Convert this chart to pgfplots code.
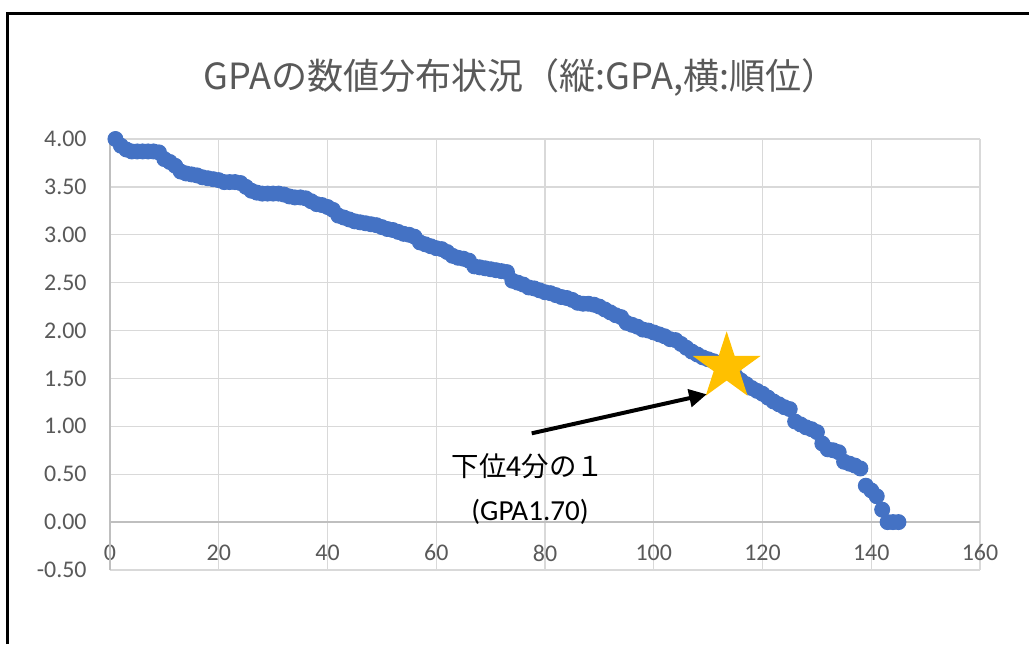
\documentclass[border=0pt]{standalone}
\usepackage{fontspec}
\setmainfont{Carlito}
\newfontfamily\jp{Noto Sans CJK JP}
\usepackage{pgfplots}
\pgfplotsset{compat=1.18}
\usetikzlibrary{arrows.meta}

\definecolor{gpablue}{HTML}{4472C4}
\definecolor{stargold}{HTML}{FFC000}
\definecolor{gridgray}{HTML}{D9D9D9}
\definecolor{axisgray}{HTML}{BFBFBF}
\definecolor{txtgray}{HTML}{595959}

% filled five-pointed star as a plot mark
\pgfdeclareplotmark{fstar}{%
  \pgfpathmoveto{\pgfpointpolar{90}{\pgfplotmarksize}}%
  \pgfpathlineto{\pgfpointpolar{126}{0.382*\pgfplotmarksize}}%
  \pgfpathlineto{\pgfpointpolar{162}{\pgfplotmarksize}}%
  \pgfpathlineto{\pgfpointpolar{198}{0.382*\pgfplotmarksize}}%
  \pgfpathlineto{\pgfpointpolar{234}{\pgfplotmarksize}}%
  \pgfpathlineto{\pgfpointpolar{270}{0.382*\pgfplotmarksize}}%
  \pgfpathlineto{\pgfpointpolar{306}{\pgfplotmarksize}}%
  \pgfpathlineto{\pgfpointpolar{342}{0.382*\pgfplotmarksize}}%
  \pgfpathlineto{\pgfpointpolar{18}{\pgfplotmarksize}}%
  \pgfpathlineto{\pgfpointpolar{54}{0.382*\pgfplotmarksize}}%
  \pgfpathclose
  \pgfusepathqfill}

\pgfplotstableread{
rank gpa
1 4.00
2 3.93
3 3.89
4 3.87
5 3.87
6 3.87
7 3.87
8 3.87
9 3.86
10 3.79
11 3.76
12 3.72
13 3.66
14 3.64
15 3.63
16 3.62
17 3.60
18 3.59
19 3.58
20 3.57
21 3.55
22 3.55
23 3.55
24 3.54
25 3.50
26 3.46
27 3.44
28 3.43
29 3.43
30 3.43
31 3.43
32 3.42
33 3.40
34 3.39
35 3.39
36 3.38
37 3.35
38 3.32
39 3.31
40 3.29
41 3.26
42 3.20
43 3.18
44 3.16
45 3.14
46 3.13
47 3.12
48 3.11
49 3.10
50 3.08
51 3.06
52 3.05
53 3.03
54 3.01
55 3.00
56 2.98
57 2.92
58 2.90
59 2.88
60 2.86
61 2.85
62 2.82
63 2.78
64 2.76
65 2.75
66 2.73
67 2.67
68 2.66
69 2.65
70 2.64
71 2.63
72 2.62
73 2.61
74 2.52
75 2.50
76 2.48
77 2.45
78 2.44
79 2.42
80 2.40
81 2.39
82 2.37
83 2.35
84 2.34
85 2.32
86 2.29
87 2.28
88 2.28
89 2.27
90 2.25
91 2.22
92 2.19
93 2.16
94 2.14
95 2.08
96 2.06
97 2.04
98 2.01
99 2.00
100 1.98
101 1.96
102 1.94
103 1.91
104 1.90
105 1.86
106 1.82
107 1.78
108 1.75
109 1.72
110 1.70
111 1.68
112 1.65
113 1.62
114 1.58
115 1.53
116 1.48
117 1.44
118 1.40
119 1.37
120 1.34
121 1.30
122 1.26
123 1.23
124 1.20
125 1.18
126 1.05
127 1.02
128 0.99
129 0.97
130 0.94
131 0.82
132 0.76
133 0.75
134 0.73
135 0.63
136 0.61
137 0.59
138 0.56
139 0.38
140 0.33
141 0.27
142 0.13
143 0.00
144 0.00
145 0.00
}\gpadata

\begin{document}
\begin{tikzpicture}[x=0.015cm,y=0.015cm]
\fill[white] (0,0) rectangle (1029,644);
\useasboundingbox (0,0) rectangle (1029,644);
\draw[black, line width=1pt] (7.5,0) -- (7.5,630.5) -- (1029,630.5);

\begin{axis}[
    at={(1.65cm,1.11cm)}, anchor=south west,
    scale only axis,
    width=13.05cm, height=6.465cm,
    xmin=0, xmax=160, ymin=-0.5, ymax=4,
    xtick={0,20,...,160},
    ytick={-0.5,0,0.5,1,1.5,2,2.5,3,3.5,4},
    grid=major,
    grid style={draw=gridgray, line width=0.55pt},
    extra y ticks={0}, extra y tick labels={},
    extra y tick style={grid style={draw=axisgray, line width=0.6pt}},
    extra x ticks={0}, extra x tick labels={},
    extra x tick style={grid style={draw=axisgray, line width=0.6pt}},
    axis line style={draw=none},
    major tick length=0pt,
    tick style={draw=none},
    /pgf/number format/assume math mode=true,
    ticklabel style={font=\fontsize{10.2}{12}\selectfont, text=txtgray, inner sep=0pt},
    yticklabel style={/pgf/number format/fixed,
        /pgf/number format/fixed zerofill,
        /pgf/number format/precision=2,
        anchor=east, xshift=-0.345cm},
    xticklabel style={anchor=center, yshift=0.255cm},
    clip=false,
]
\addplot[only marks, mark=*, mark size=3.2pt,
    mark options={draw=gpablue, fill=gpablue}] table[x=rank, y=gpa] {\gpadata};
\addplot[only marks, mark=fstar, mark size=15.2pt,
    mark options={draw=none, fill=stargold}] coordinates {(113.4,1.62)};
\end{axis}

\node[anchor=base west, inner sep=0pt, text=txtgray,
    font=\jp\fontsize{15.4}{18}\selectfont] at (203,554.7)
    {GPAの数値分布状況（縦:GPA,横:順位）};

\draw[black, line width=1.7pt, -{Triangle[length=7.5pt, width=7.5pt]}]
    (531.7,210.7) -- (706.7,249.7);
\node[inner sep=0pt, font=\jp\fontsize{11.7}{14}\selectfont] at (528,178)
    {下位4分の１};
\node[inner sep=0pt, font=\fontsize{12.4}{15}\selectfont] at (530,132)
    {(GPA1.70)};
\end{tikzpicture}
\end{document}
